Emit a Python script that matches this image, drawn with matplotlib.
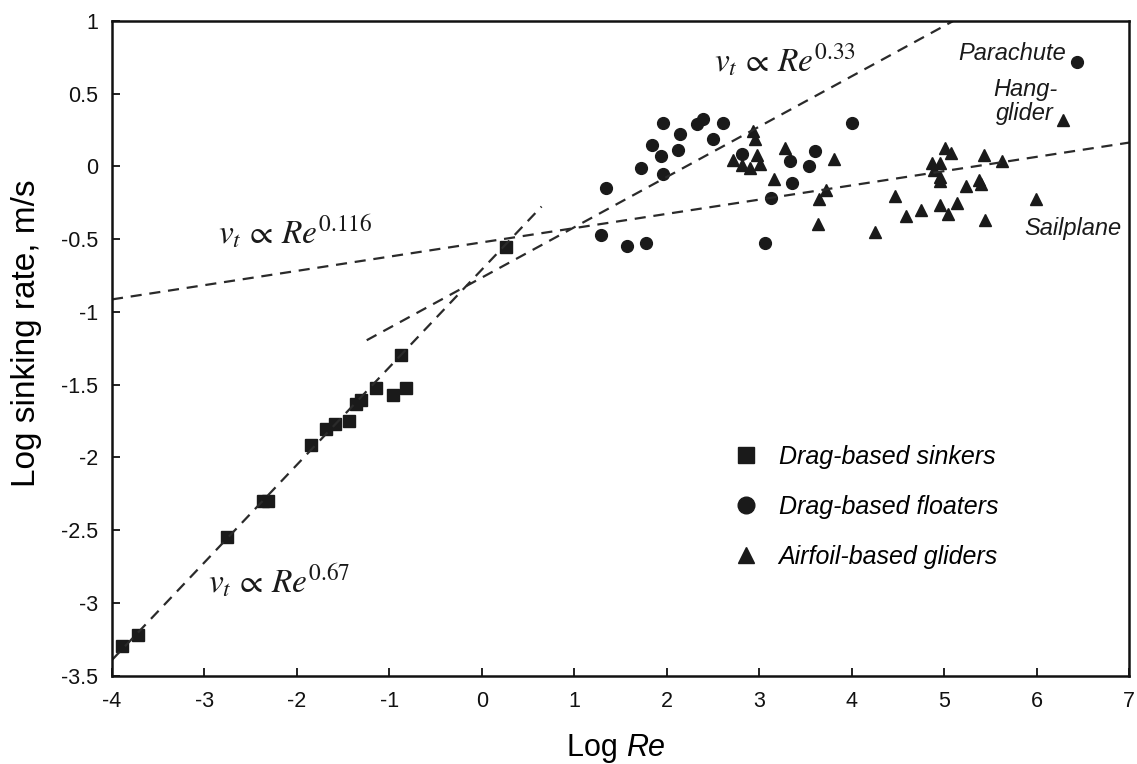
import matplotlib
matplotlib.use("Agg")
import matplotlib.pyplot as plt
import numpy as np
from matplotlib.lines import Line2D

# ---------------- data ----------------
sinkers_x = [-3.887, -3.714, -2.760, -2.367, -2.309, -1.843, -1.681, -1.591,
             -1.432, -1.364, -1.302, -1.147, -0.966, -0.877, -0.823, 0.26]
sinkers_y = [-3.300, -3.221, -2.546, -2.299, -2.299, -1.918, -1.803, -1.769,
             -1.753, -1.631, -1.604, -1.523, -1.569, -1.298, -1.523, -0.557]

floaters_x = [1.956, 2.146, 2.327, 2.395, 2.611, 1.840, 1.937, 2.124, 2.503,
              1.721, 1.962, 1.342, 2.814, 3.333, 3.607, 3.539, 3.350, 3.128,
              4.004, 1.288, 1.566, 1.778, 3.060, 6.439]
floaters_y = [0.301, 0.220, 0.289, 0.328, 0.296, 0.147, 0.071, 0.112, 0.186,
              -0.014, -0.055, -0.149, 0.087, 0.040, 0.103, 0.003, -0.117, -0.217,
              0.299, -0.473, -0.546, -0.525, -0.523, 0.716]

gliders_x = [2.933, 2.951, 2.720, 2.817, 2.900, 2.973, 3.012, 3.279, 3.160,
             3.810, 3.643, 3.723, 3.636, 4.253, 4.466, 4.583, 4.751, 4.952,
             5.043, 5.141, 5.008, 5.070, 4.869, 4.960, 4.887, 4.960, 4.960,
             5.234, 5.379, 5.398, 5.435, 5.628, 5.447, 5.991, 6.288]
gliders_y = [0.244, 0.191, 0.041, 0.007, -0.014, 0.078, 0.014, 0.124, -0.089,
             0.052, -0.227, -0.165, -0.396, -0.454, -0.200, -0.344, -0.299, -0.268,
             -0.328, -0.251, 0.126, 0.091, 0.021, 0.021, -0.025, -0.072, -0.102,
             -0.137, -0.095, -0.118, 0.079, 0.037, -0.367, -0.227, 0.317]

# fitted power-law lines (slope, intercept at log Re = 0, x-range)
fit_slopes = [0.671, 0.346, 0.098]
fit_intercepts = [-0.709, -0.764, -0.522]
fit_xmin = [-4.0, -1.245, -4.0]
fit_xmax = [0.646, 5.094, 7.0]

legend_labels = ["Drag-based sinkers", "Drag-based floaters", "Airfoil-based gliders"]
x_ticks = list(range(-4, 8))
y_ticks = [1, 0.5, 0, -0.5, -1, -1.5, -2, -2.5, -3, -3.5]

# ---------------- figure ----------------
plt.rcParams['font.family'] = ['Liberation Sans', 'DejaVu Sans']
plt.rcParams['mathtext.fontset'] = 'stix'

fig = plt.figure(figsize=(11.37, 7.64), dpi=100)
ax = fig.add_axes([0.0985, 0.1158, 0.8945, 0.8567])

ink = '#1a1a1a'
ax.plot(sinkers_x, sinkers_y, 's', color=ink, ms=8, mec=ink)
ax.plot(floaters_x, floaters_y, 'o', color=ink, ms=8.5, mec=ink)
ax.plot(gliders_x, gliders_y, '^', color=ink, ms=8.5, mec=ink)

for m, b, x0, x1 in zip(fit_slopes, fit_intercepts, fit_xmin, fit_xmax):
    xs = np.array([x0, x1])
    ax.plot(xs, m * xs + b, color='#2a2a2a', lw=1.6, ls=(0, (5, 3.5)))

ax.set_xlim(-4, 7)
ax.set_ylim(-3.5, 1)
ax.set_xticks(x_ticks)
ax.set_xticklabels([str(t) for t in x_ticks])
ax.set_yticks(y_ticks)
ax.set_yticklabels([('%g' % t) for t in y_ticks])
ax.tick_params(direction='in', length=6, width=1.3, labelsize=15.5, colors='#111111')
ax.tick_params(axis='y', pad=10)
ax.tick_params(axis='x', pad=11)
for sp in ax.spines.values():
    sp.set_linewidth(1.8)
    sp.set_color('#111111')

ax.set_ylabel('Log sinking rate, m/s', fontsize=24)
ax.yaxis.set_label_coords(-0.069, 0.523)

# x label with italic "Re"
ax.annotate('Log ', xy=(0.5, 0), xycoords='axes fraction', xytext=(4, -58),
            textcoords='offset points', ha='right', va='baseline', fontsize=22)
ax.annotate('Re', xy=(0.5, 0), xycoords='axes fraction', xytext=(4, -58),
            textcoords='offset points', ha='left', va='baseline', fontsize=22,
            style='italic')

# power law annotations
tfs = 24
ax.text(2.508, 0.647, r'$v_t\,\propto\,Re^{0.33}$', fontsize=tfs, ha='left', va='baseline', color='#1a1a1a')
ax.text(-2.857, -0.537, r'$v_t\,\propto\,Re^{0.116}$', fontsize=tfs, ha='left', va='baseline', color='#1a1a1a')
ax.text(-2.965, -2.932, r'$v_t\,\propto\,Re^{0.67}$', fontsize=tfs, ha='left', va='baseline', color='#1a1a1a')

# point labels
lfs = 17
ax.text(6.32, 0.73, 'Parachute', fontsize=lfs, style='italic', ha='right', va='baseline', color='#1a1a1a')
ax.text(5.877, 0.485, 'Hang-', fontsize=lfs, style='italic', ha='center', va='baseline', color='#1a1a1a')
ax.text(5.877, 0.32, 'glider', fontsize=lfs, style='italic', ha='center', va='baseline', color='#1a1a1a')
ax.text(6.916, -0.47, 'Sailplane', fontsize=lfs, style='italic', ha='right', va='baseline', color='#1a1a1a')

handles = [Line2D([], [], ls='none', marker=mk, color=ink, ms=s)
           for mk, s in zip(['s', 'o', '^'], [12, 12, 12])]
leg = ax.legend(handles, legend_labels, loc='center left', bbox_to_anchor=(0.589, 0.258),
                frameon=False, handlelength=1.0, handletextpad=0.8, labelspacing=1.04,
                prop={'size': 18, 'style': 'italic'})

fig.savefig('out.png', dpi=100)
